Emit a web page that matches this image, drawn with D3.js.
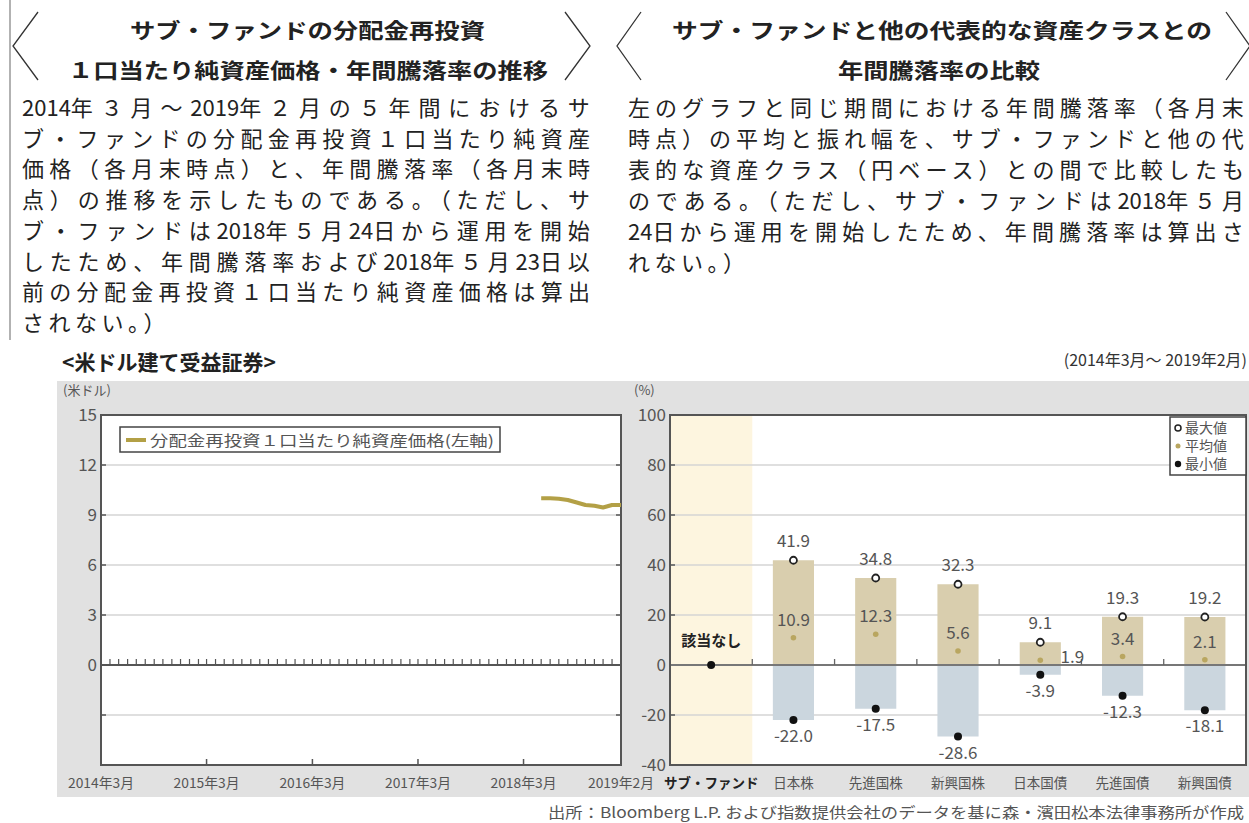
<!DOCTYPE html>
<html><head><meta charset="utf-8">
<script src="https://cdn.jsdelivr.net/npm/d3@7"></script>
<style>
html,body{margin:0;padding:0;background:#fff;overflow:hidden;}
svg{display:block;font-family:"Noto Sans CJK JP","Noto Sans",sans-serif;}
</style></head>
<body><svg id="c" width="1249" height="823"></svg>
<script>
// ---------- data ----------
const leftTitle = ["サブ・ファンドの分配金再投資", "１口当たり純資産価格・年間騰落率の推移"];
const leftBody = [
  "2014年３月～2019年２月の５年間におけるサ",
  "ブ・ファンドの分配金再投資１口当たり純資産",
  "価格（各月末時点）と、年間騰落率（各月末時",
  "点）の推移を示したものである。（ただし、サ",
  "ブ・ファンドは2018年５月24日から運用を開始",
  "したため、年間騰落率および2018年５月23日以",
  "前の分配金再投資１口当たり純資産価格は算出",
  "されない。）"
];
const rightTitle = ["サブ・ファンドと他の代表的な資産クラスとの", "年間騰落率の比較"];
const rightBody = [
  "左のグラフと同じ期間における年間騰落率（各月末",
  "時点）の平均と振れ幅を、サブ・ファンドと他の代",
  "表的な資産クラス（円ベース）との間で比較したも",
  "のである。（ただし、サブ・ファンドは2018年５月",
  "24日から運用を開始したため、年間騰落率は算出さ",
  "れない。）"
];
const navMonths = ["2018-05","2018-06","2018-07","2018-08","2018-09","2018-10","2018-11","2018-12","2019-01","2019-02"];
const navValues = [10.0, 10.0, 9.98, 9.9, 9.75, 9.6, 9.55, 9.45, 9.6, 9.6];
const leftYTicks = [15, 12, 9, 6, 3, 0];
const leftGrid = [12, 9, 6, 3, -3];
const xTickLabels = ["2014年3月","2015年3月","2016年3月","2017年3月","2018年3月","2019年2月"];
const xTickDates = ["2014-03","2015-03","2016-03","2017-03","2018-03","2019-02"];

const categories = ["サブ・ファンド","日本株","先進国株","新興国株","日本国債","先進国債","新興国債"];
const maxVals  = [null, 41.9, 34.8, 32.3, 9.1, 19.3, 19.2];
const meanVals = [null, 10.9, 12.3, 5.6, 1.9, 3.4, 2.1];
const minVals  = [null, -22.0, -17.5, -28.6, -3.9, -12.3, -18.1];
const subFundValue = 0;
const rightYTicks = [100, 80, 60, 40, 20, 0, -20, -40];

// ---------- drawing ----------
const svg = d3.select("#c");
const parse = d3.timeParse("%Y-%m");

// header
svg.append("line").attr("x1",10).attr("x2",10).attr("y1",0).attr("y2",340).attr("stroke","#999").attr("stroke-width",1.5);
function bracket(pts){ svg.append("polyline").attr("points",pts.map(p=>p.join(",")).join(" ")).attr("fill","none").attr("stroke","#333").attr("stroke-width",1.3); }
bracket([[38,12],[13,46],[38,80]]);
bracket([[565,12],[590,46],[565,80]]);
bracket([[641,12],[617,46],[641,80]]);
bracket([[1226,12],[1250,46],[1226,80]]);

function titleText(txt, x, y, len){
  svg.append("text").attr("x",x).attr("y",y).attr("font-size",21).attr("font-weight",700).attr("fill","#222")
    .attr("textLength",len).attr("lengthAdjust","spacingAndGlyphs").text(txt);
}
titleText(leftTitle[0],130,38,355);
titleText(leftTitle[1],68,78,480);
titleText(rightTitle[0],672,38,540);
titleText(rightTitle[1],838,78,202);

// justified body line: ascii runs stay compact, full-width characters get extra spacing
function bodyLine(txt, x, y, width, justify){
  const t = svg.append("text").attr("x",x).attr("y",y).attr("font-size",22).attr("fill","#222");
  const runs = txt.match(/[\x20-\x7e]+|[^\x20-\x7e]/g);
  const spans = runs.map(r => ({r, fw: !/^[\x20-\x7e]+$/.test(r), el: t.append("tspan").text(r)}));
  if(justify){
    const w = t.node().getComputedTextLength();
    const nfw = spans.filter(s=>s.fw).length;
    const lastFw = spans[spans.length-1].fw ? 1 : 0;
    const ls = (width - w) / Math.max(1, nfw - lastFw);
    spans.forEach(s=>{ if(s.fw) s.el.style("letter-spacing", ls+"px"); });
  } else {
    spans.forEach(s=>{ if(s.fw) s.el.style("letter-spacing", "4.5px"); });
  }
}
leftBody.forEach((t,i)=> bodyLine(t, 22, 116+i*30.7, 568, i<leftBody.length-1));
rightBody.forEach((t,i)=> bodyLine(t, 628, 116+i*31, 616, i<rightBody.length-1));

// section title
svg.append("text").attr("x",62).attr("y",370).attr("font-size",21).attr("font-weight",700).attr("fill","#222").text("<米ドル建て受益証券>");
svg.append("text").attr("x",1247).attr("y",366).attr("text-anchor","end").attr("font-size",16).attr("fill","#333").text("(2014年3月～ 2019年2月)");

// gray panel
svg.append("rect").attr("x",57).attr("y",381).attr("width",1200).attr("height",416).attr("fill","#e1e1e1");

// ---------- left chart ----------
const L = {x0:101, x1:621, y0:415, y1:765};
const xL = d3.scaleTime().domain([parse("2014-03"), parse("2019-02")]).range([L.x0, L.x1]);
const yL = d3.scaleLinear().domain([-6, 15]).range([L.y1, L.y0]);
svg.append("rect").attr("x",L.x0).attr("y",L.y0).attr("width",L.x1-L.x0).attr("height",L.y1-L.y0).attr("fill","#fff");
const gL = svg.append("g");
gL.selectAll("line.grid").data(leftGrid).join("line")
  .attr("x1",L.x0).attr("x2",L.x1).attr("y1",d=>yL(d)).attr("y2",d=>yL(d))
  .attr("stroke","#d4d4d4").attr("stroke-width",1.5);
[L.x0, L.x1].forEach((xx,k)=>{
  gL.selectAll(null).data(leftGrid).join("line")
    .attr("x1",xx).attr("x2",xx+(k?-5:5)).attr("y1",d=>yL(d)).attr("y2",d=>yL(d)).attr("stroke","#555").attr("stroke-width",1.5);
});
gL.append("line").attr("x1",L.x0).attr("x2",L.x1).attr("y1",yL(0)).attr("y2",yL(0)).attr("stroke","#555").attr("stroke-width",2);
const months = d3.timeMonth.range(parse("2014-04"), parse("2019-03"));
gL.selectAll("line.mt").data(months).join("line")
  .attr("x1",d=>xL(d)).attr("x2",d=>xL(d)).attr("y1",yL(0)).attr("y2",yL(0)-6).attr("stroke","#555").attr("stroke-width",1.2);
gL.selectAll("line.yt").data(xTickDates.slice(1,5)).join("line")
  .attr("x1",d=>xL(parse(d))).attr("x2",d=>xL(parse(d))).attr("y1",L.y1).attr("y2",L.y1-6).attr("stroke","#555").attr("stroke-width",1.5);
svg.append("rect").attr("x",L.x0).attr("y",L.y0).attr("width",L.x1-L.x0).attr("height",L.y1-L.y0).attr("fill","none").attr("stroke","#555").attr("stroke-width",2);
svg.selectAll("text.yl").data(leftYTicks).join("text")
  .attr("x",L.x0-4).attr("y",d=>yL(d)+6).attr("text-anchor","end").attr("font-size",17).attr("fill","#555").text(d=>d);
svg.append("text").attr("x",63).attr("y",395).attr("font-size",13).attr("fill","#555").text("(米ドル)");
svg.selectAll("text.xl").data(xTickLabels).join("text")
  .attr("x",(d,i)=>xL(parse(xTickDates[i]))).attr("y",788).attr("text-anchor","middle").attr("font-size",13.5).attr("fill","#555")
  .attr("textLength",66).attr("lengthAdjust","spacingAndGlyphs").text(d=>d);
const navData = navMonths.map((m,i)=>({d:parse(m), v:navValues[i]}));
svg.append("path").datum(navData)
  .attr("d", d3.line().x(d=>xL(d.d)).y(d=>yL(d.v)))
  .attr("fill","none").attr("stroke","#b3a046").attr("stroke-width",4).attr("stroke-linejoin","round");
svg.append("rect").attr("x",120).attr("y",427).attr("width",380).attr("height",25).attr("fill","#fff").attr("stroke","#444").attr("stroke-width",1.5);
svg.append("line").attr("x1",126).attr("x2",146).attr("y1",440).attr("y2",440).attr("stroke","#b3a046").attr("stroke-width",4);
svg.append("text").attr("x",150).attr("y",446).attr("font-size",15).attr("fill","#555")
  .attr("textLength",344).attr("lengthAdjust","spacingAndGlyphs").text("分配金再投資１口当たり純資産価格(左軸)");

// ---------- right chart ----------
const R = {x0:670, x1:1246, y0:415, y1:765};
const xR = d3.scaleBand().domain(categories).range([R.x0, R.x1]);
const yR = d3.scaleLinear().domain([-40, 100]).range([R.y1, R.y0]);
svg.append("rect").attr("x",R.x0).attr("y",R.y0).attr("width",R.x1-R.x0).attr("height",R.y1-R.y0).attr("fill","#fff");
svg.append("rect").attr("x",xR(categories[0])).attr("y",R.y0).attr("width",xR.bandwidth()).attr("height",R.y1-R.y0).attr("fill","#fdf5df");
const gR = svg.append("g");
const rGrid = rightYTicks.filter(d=>d!==0 && d!==100 && d!==-40);
gR.selectAll("line.grid").data(rGrid).join("line")
  .attr("x1",R.x0).attr("x2",R.x1).attr("y1",d=>yR(d)).attr("y2",d=>yR(d)).attr("stroke","#d4d4d4").attr("stroke-width",1.5);
gR.selectAll("line.st").data(rGrid).join("line")
  .attr("x1",R.x0).attr("x2",R.x0+5).attr("y1",d=>yR(d)).attr("y2",d=>yR(d)).attr("stroke","#555").attr("stroke-width",1.5);

const rows = categories.map((c,i)=>({c, max:maxVals[i], mean:meanVals[i], min:minVals[i]})).filter(r=>r.max!==null);
const bw = xR.bandwidth()*0.5;
const cx = c => xR(c)+xR.bandwidth()/2;
gR.selectAll("rect.pos").data(rows).join("rect")
  .attr("x",d=>cx(d.c)-bw/2).attr("width",bw).attr("y",d=>yR(d.max)).attr("height",d=>yR(0)-yR(d.max)).attr("fill","#d9ceae");
gR.selectAll("rect.neg").data(rows).join("rect")
  .attr("x",d=>cx(d.c)-bw/2).attr("width",bw).attr("y",yR(0)).attr("height",d=>yR(d.min)-yR(0)).attr("fill","#cbd6de");
gR.append("line").attr("x1",R.x0).attr("x2",R.x1).attr("y1",yR(0)).attr("y2",yR(0)).attr("stroke","#777").attr("stroke-width",2);
gR.selectAll("line.ct").data(categories.slice(1)).join("line")
  .attr("x1",d=>xR(d)).attr("x2",d=>xR(d)).attr("y1",yR(0)).attr("y2",yR(0)-6).attr("stroke","#666").attr("stroke-width",1.3);
gR.selectAll("circle.max").data(rows).join("circle")
  .attr("cx",d=>cx(d.c)).attr("cy",d=>yR(d.max)).attr("r",3.5).attr("fill","#fff").attr("stroke","#222").attr("stroke-width",1.8);
gR.selectAll("circle.mean").data(rows).join("circle")
  .attr("cx",d=>cx(d.c)).attr("cy",d=>yR(d.mean)).attr("r",2.8).attr("fill","#b9a660");
gR.selectAll("circle.min").data(rows).join("circle")
  .attr("cx",d=>cx(d.c)).attr("cy",d=>yR(d.min)).attr("r",4).attr("fill","#111");
gR.append("circle").attr("cx",cx(categories[0])).attr("cy",yR(subFundValue)).attr("r",4).attr("fill","#111");
gR.selectAll("text.maxl").data(rows).join("text")
  .attr("x",d=>cx(d.c)).attr("y",d=>yR(d.max)-13).attr("text-anchor","middle").attr("font-size",17).attr("fill","#555").text(d=>d.max.toFixed(1));
gR.selectAll("text.meanl").data(rows).join("text")
  .attr("x",d=> d.c==="日本国債" ? cx(d.c)+32 : cx(d.c))
  .attr("y",d=> d.c==="日本国債" ? yR(d.mean)+3 : yR(d.mean)-12)
  .attr("text-anchor","middle").attr("font-size",17).attr("fill","#555").text(d=>d.mean.toFixed(1));
gR.selectAll("text.minl").data(rows).join("text")
  .attr("x",d=>cx(d.c)).attr("y",d=>yR(d.min)+22).attr("text-anchor","middle").attr("font-size",17).attr("fill","#555").text(d=>d.min.toFixed(1));
svg.append("text").attr("x",cx(categories[0])).attr("y",646).attr("text-anchor","middle").attr("font-size",15).attr("font-weight",700).attr("fill","#222").text("該当なし");
svg.append("rect").attr("x",R.x0).attr("y",R.y0).attr("width",R.x1-R.x0).attr("height",R.y1-R.y0).attr("fill","none").attr("stroke","#555").attr("stroke-width",2);
svg.selectAll("text.yr").data(rightYTicks).join("text")
  .attr("x",R.x0-4).attr("y",d=>yR(d)+6).attr("text-anchor","end").attr("font-size",17).attr("fill","#555").text(d=>d);
svg.append("text").attr("x",634).attr("y",395).attr("font-size",13).attr("fill","#555").text("(%)");
svg.selectAll("text.xr").data(categories).join("text")
  .attr("x",d=>cx(d)).attr("y",788).attr("text-anchor","middle").attr("font-size",13.5)
  .attr("font-weight",(d,i)=>i===0?700:400).attr("fill",(d,i)=>i===0?"#222":"#555").text(d=>d);
svg.append("rect").attr("x",1170).attr("y",417).attr("width",76).attr("height",58).attr("fill","#fff").attr("stroke","#444").attr("stroke-width",1.5);
const legItems = [{t:"最大値", k:"max"},{t:"平均値", k:"mean"},{t:"最小値", k:"min"}];
legItems.forEach((it,i)=>{
  const y = 428+i*18;
  if(it.k==="max") svg.append("circle").attr("cx",1178).attr("cy",y).attr("r",3).attr("fill","#fff").attr("stroke","#222").attr("stroke-width",1.5);
  if(it.k==="mean") svg.append("circle").attr("cx",1178).attr("cy",y).attr("r",2.5).attr("fill","#b9a660");
  if(it.k==="min") svg.append("circle").attr("cx",1178).attr("cy",y).attr("r",3.2).attr("fill","#111");
  svg.append("text").attr("x",1185).attr("y",y+5).attr("font-size",14).attr("fill","#555").text(it.t);
});

// footer
svg.append("text").attr("x",548).attr("y",818).attr("font-size",15).attr("fill","#555")
  .attr("textLength",696).attr("lengthAdjust","spacingAndGlyphs").text("出所：Bloomberg L.P. および指数提供会社のデータを基に森・濱田松本法律事務所が作成");
</script></body></html>
